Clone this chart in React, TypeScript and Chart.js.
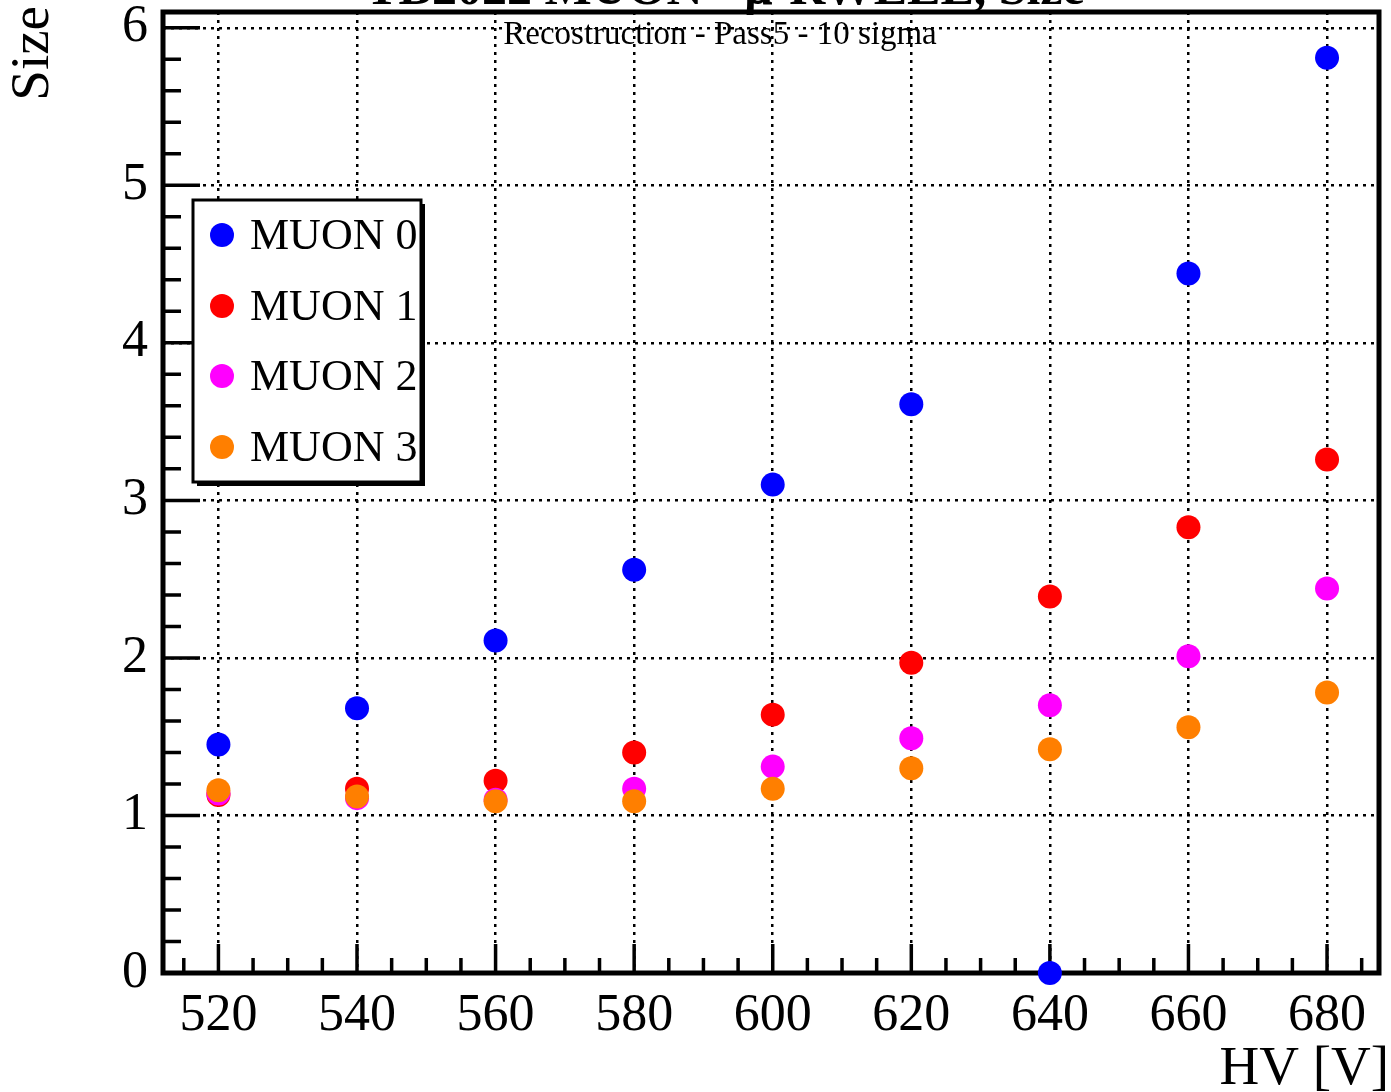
import React, { useEffect, useRef } from "react";
import { Chart, registerables } from "chart.js";

Chart.register(...registerables);

const hv = [520, 540, 560, 580, 600, 620, 640, 660, 680];
const muon0 = [1.45, 1.68, 2.11, 2.56, 3.1, 3.61, 0, 4.44, 5.81];
const muon1 = [1.13, 1.17, 1.22, 1.4, 1.64, 1.97, 2.39, 2.83, 3.26];
const muon2 = [1.14, 1.11, 1.1, 1.17, 1.31, 1.49, 1.7, 2.01, 2.44];
const muon3 = [1.16, 1.12, 1.09, 1.09, 1.17, 1.3, 1.42, 1.56, 1.78];
const seriesValues = [muon0, muon1, muon2, muon3];
const seriesLabels = ["MUON 0", "MUON 1", "MUON 2", "MUON 3"];
const seriesColors = ["#0000ff", "#ff0000", "#ff00ff", "#ff7f00"];
const xTickValues = [520, 540, 560, 580, 600, 620, 640, 660, 680];
const xMinorStep = 5;
const yTickValues = [0, 1, 2, 3, 4, 5, 6];
const yMinorStep = 0.2;
const titleText = "TB2022 MUON - μ-RWELL, Size";
const subtitleText = "Recostruction - Pass5 - 10 sigma";
const xTitle = "HV [V]";
const yTitle = "Size";

const SERIF = "'Liberation Serif', 'DejaVu Serif', serif";

const decorPlugin = {
  id: "rootDecor",
  beforeDatasetsDraw(chart: any) {
    const { ctx, chartArea } = chart;
    const xs = chart.scales.x;
    const ys = chart.scales.y;
    ctx.save();
    ctx.strokeStyle = "#000";
    ctx.lineWidth = 3.5;
    ctx.beginPath();
    for (let v = Math.ceil(xs.min / xMinorStep) * xMinorStep; v <= xs.max + 1e-9; v += xMinorStep) {
      const px = xs.getPixelForValue(v);
      const major = Math.abs(v % 20) < 1e-6;
      const len = major ? 29 : 15;
      ctx.moveTo(px, chartArea.bottom);
      ctx.lineTo(px, chartArea.bottom - len);
    }
    for (let i = 0; ; i++) {
      const v = ys.min + i * yMinorStep;
      if (v > ys.max + 1e-9) break;
      const py = ys.getPixelForValue(v);
      const major = Math.abs(v - Math.round(v)) < 1e-6;
      const len = major ? 37 : 18;
      ctx.moveTo(chartArea.left, py);
      ctx.lineTo(chartArea.left + len, py);
    }
    ctx.stroke();
    ctx.lineWidth = 5;
    ctx.strokeRect(chartArea.left, chartArea.top, chartArea.right - chartArea.left, chartArea.bottom - chartArea.top);
    ctx.fillStyle = "#000";
    ctx.font = `33px ${SERIF}`;
    ctx.textAlign = "center";
    ctx.textBaseline = "alphabetic";
    ctx.fillText(subtitleText, 720, 44);
    ctx.restore();
  },
  afterDraw(chart: any) {
    const { ctx } = chart;
    ctx.save();
    ctx.fillStyle = "#000";
    ctx.font = `bold 50px ${SERIF}`;
    ctx.textAlign = "center";
    ctx.textBaseline = "alphabetic";
    ctx.fillText(titleText, 725, 4);
    ctx.font = `55px ${SERIF}`;
    ctx.textAlign = "right";
    ctx.fillText(xTitle, 1389, 1084);
    ctx.save();
    ctx.translate(48, 6);
    ctx.rotate(-Math.PI / 2);
    ctx.textAlign = "right";
    ctx.fillText(yTitle, 0, 0);
    ctx.restore();
    const lx = 193, ly = 200, lw = 228, lh = 282;
    ctx.fillStyle = "#000";
    ctx.fillRect(lx + 4, ly + 4, lw, lh);
    ctx.fillStyle = "#fff";
    ctx.fillRect(lx, ly, lw, lh);
    ctx.strokeStyle = "#000";
    ctx.lineWidth = 3;
    ctx.strokeRect(lx, ly, lw, lh);
    ctx.font = `44px ${SERIF}`;
    ctx.textAlign = "left";
    ctx.textBaseline = "middle";
    const rows = [235, 306, 376, 447];
    seriesLabels.forEach((lab, i) => {
      ctx.fillStyle = seriesColors[i];
      ctx.beginPath();
      ctx.arc(222, rows[i], 12, 0, Math.PI * 2);
      ctx.fill();
      ctx.fillStyle = "#000";
      ctx.fillText(lab, 250, rows[i] + 2);
    });
    ctx.restore();
  },
};

export default function App() {
  const ref = useRef<HTMLCanvasElement | null>(null);
  useEffect(() => {
    if (!ref.current) return;
    const datasets = seriesValues.map((vals, i) => ({
      label: seriesLabels[i],
      data: hv.map((x, j) => ({ x, y: vals[j] })),
      backgroundColor: seriesColors[i],
      borderColor: seriesColors[i],
      pointRadius: 12,
      pointHoverRadius: 12,
      pointBorderWidth: 0,
      showLine: false,
      clip: false as any,
      order: 3 - i,
    }));
    const chart = new Chart(ref.current, {
      type: "scatter",
      data: { datasets },
      plugins: [decorPlugin],
      options: {
        animation: false,
        responsive: false,
        devicePixelRatio: 1,
        layout: { padding: { left: 0, top: 12, right: 4, bottom: 0 } },
        plugins: { legend: { display: false }, tooltip: { enabled: false }, title: { display: false } },
        scales: {
          x: {
            type: "linear",
            min: 512,
            max: 687.5,
            afterBuildTicks: (s: any) => {
              s.ticks = xTickValues.map((v) => ({ value: v }));
            },
            afterFit: (s: any) => {
              s.height = 119;
              s.paddingLeft = 0;
              s.paddingRight = 0;
              s.paddingTop = 0;
              s.paddingBottom = 0;
            },
            grid: { color: "#000", lineWidth: 2.5, drawTicks: false },
            border: { display: false, dash: [3, 5] },
            ticks: {
              color: "#000",
              font: { family: SERIF, size: 52 },
              padding: 12,
              maxRotation: 0,
              autoSkip: false,
            },
          },
          y: {
            type: "linear",
            min: 0,
            max: 6.1,
            afterBuildTicks: (s: any) => {
              s.ticks = yTickValues.map((v) => ({ value: v }));
            },
            afterFit: (s: any) => {
              s.width = 163;
              s.paddingLeft = 0;
              s.paddingRight = 0;
              s.paddingTop = 0;
              s.paddingBottom = 0;
            },
            grid: { color: "#000", lineWidth: 2.5, drawTicks: false },
            border: { display: false, dash: [3, 5] },
            ticks: {
              color: "#000",
              font: { family: SERIF, size: 52 },
              padding: 15,
              autoSkip: false,
            },
          },
        },
      },
    });
    return () => chart.destroy();
  }, []);
  return (
    <div style={{ position: "absolute", left: 0, top: 0, width: 1391, height: 1092, background: "#fff" }}>
      <canvas ref={ref} width={1391} height={1092} style={{ width: 1391, height: 1092, display: "block" }} />
    </div>
  );
}
